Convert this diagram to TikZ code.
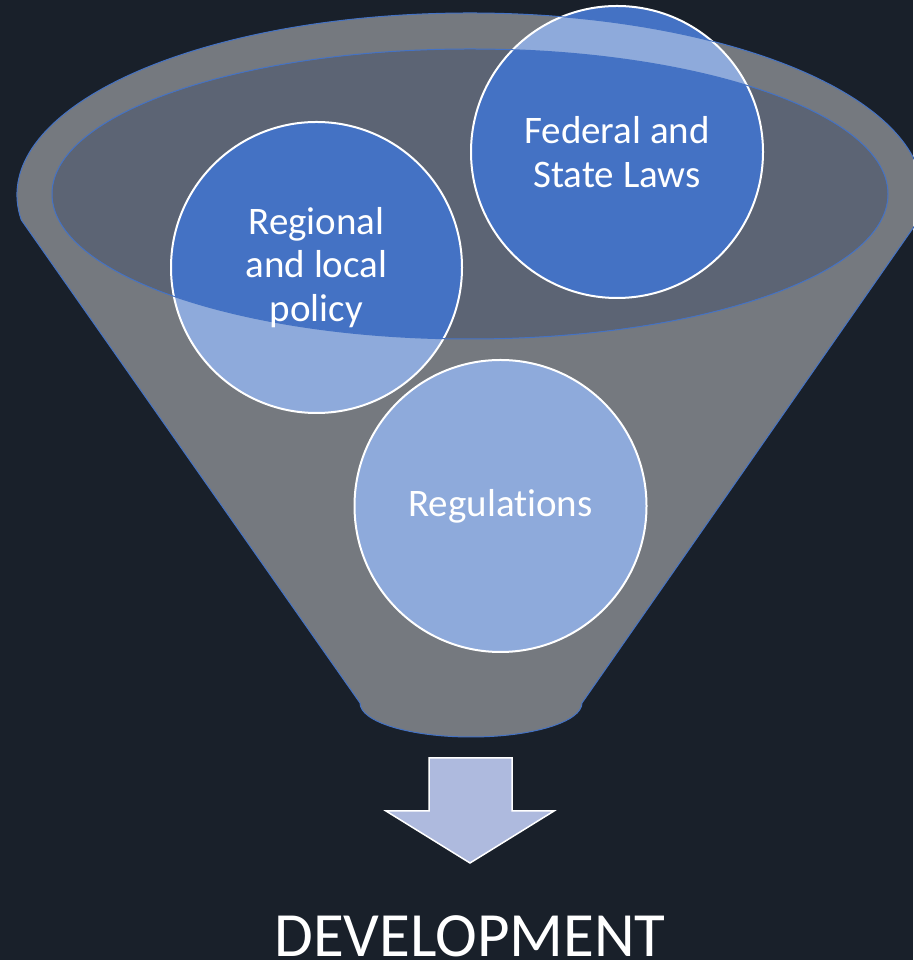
\documentclass[tikz,border=0pt]{standalone}
\usepackage{fontspec}
\setmainfont{Carlito}[Ligatures={NoCommon,NoRequired,NoContextual}]
\begin{document}
\begin{tikzpicture}[x=1pt,y=1pt]
\definecolor{bg}{HTML}{19202A}
\definecolor{inner}{HTML}{5C6474}
\definecolor{cblue}{HTML}{4472C4}
\definecolor{arrowfill}{HTML}{AEBADE}
\tikzset{
  circ/.style={circle, fill=cblue, draw=white, line width=2pt, minimum size=#1, inner sep=0pt},
  ctext/.style={text=white, align=center, font=\fontsize{39}{43.5}\selectfont},
  edge/.style={draw=cblue, line width=1pt}
}
\useasboundingbox (0,0) rectangle (913,960);
\fill[bg] (0,0) rectangle (913,960);
% inner ellipse (hole) fill
\fill[inner] (470,766) ellipse [x radius=418, y radius=145];
% circles
\node[circ=291pt] (reg) at (316.5,692.5) {};
\node[circ=292pt] (fed) at (617,808) {};
\node[circ=292pt] (rul) at (500.5,454) {};
% funnel overlay with hole
\fill[white, fill opacity=0.4, even odd rule]
  (21.3,740) arc[start angle=187.9, end angle=-7.9, x radius=453, y radius=182]
  -- (582,257) arc[start angle=0, end angle=-180, x radius=111, y radius=34]
  -- cycle
  (470,766) ellipse [x radius=418, y radius=145];
% outlines
\draw[edge]
  (21.3,740) arc[start angle=187.9, end angle=-7.9, x radius=453, y radius=182]
  -- (582,257) arc[start angle=0, end angle=-180, x radius=111, y radius=34]
  -- cycle;
\draw[edge] (470,766) ellipse [x radius=418, y radius=145];
% texts
\node[ctext] (regt) at (reg.center) {Regional\\and local\\policy};
\node[ctext] (fedt) at (fed.center) {Federal and\\State Laws};
\node[ctext] (rult) at (rul.center) {Regulations};
% arrow
\draw[fill=arrowfill, draw=white, line width=1.5pt, line join=miter]
  (429,202) -- (512,202) -- (512,149) -- (554,149) -- (470,97) -- (386,149) -- (429,149) -- cycle;
\node[text=white, anchor=base, font=\fontsize{63}{70}\selectfont, inner sep=0pt] (dev) at (470,3) {DEVELOPMENT};
\end{tikzpicture}
\end{document}
